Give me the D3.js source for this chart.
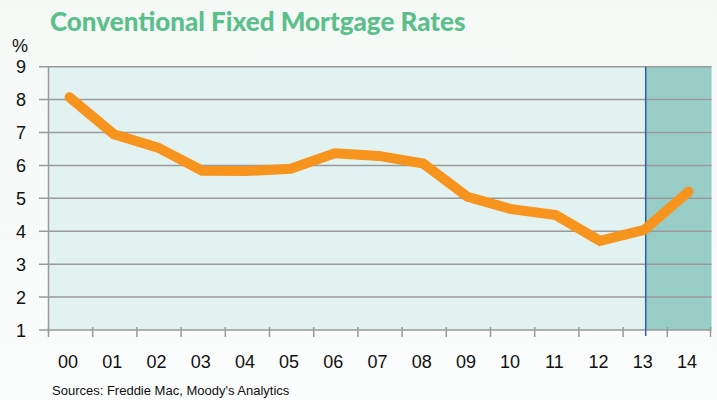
<!DOCTYPE html>
<html><head><meta charset="utf-8">
<script src="https://cdn.jsdelivr.net/npm/d3@7"></script>
<style>html,body{margin:0;padding:0;background:#f6f9f7;}</style>
</head><body>
<script>
const years = ["00","01","02","03","04","05","06","07","08","09","10","11","12","13","14"];
const rates = [8.07,6.95,6.54,5.84,5.83,5.9,6.37,6.29,6.06,5.05,4.67,4.49,3.71,4.04,5.2];
const yTicks = [1,2,3,4,5,6,7,8,9];
const forecastStart = "13";

(function(){
const W=717,H=400;
const svg=d3.select("body").append("svg").attr("width",W).attr("height",H);
const defs=svg.append("defs");
const g0=defs.append("linearGradient").attr("id","bg").attr("x1",0).attr("y1",0).attr("x2",0).attr("y2",1);
g0.append("stop").attr("offset","0%").attr("stop-color","#f5f9f6");
g0.append("stop").attr("offset","100%").attr("stop-color","#fbfcfc");
svg.append("rect").attr("width",W).attr("height",H).attr("fill","url(#bg)");

const pL=48.5,pR=711.5,pT=66.7,pB=330;
const x=d3.scaleBand().domain(years).range([pL,pR]);
const y=d3.scaleLinear().domain([1,9]).range([pB,pT]);
const cx=d=>x(d)+x.bandwidth()/2-1;

svg.append("rect").attr("x",pL).attr("y",pT).attr("width",pR-pL).attr("height",pB-pT).attr("fill","#e2f2f1");
const fx=cx(forecastStart)+1.5;
svg.append("rect").attr("x",fx).attr("y",pT).attr("width",pR-fx).attr("height",pB-pT).attr("fill","#98ccc7");

// grid
svg.append("g").selectAll("line").data(yTicks).join("line")
  .attr("x1",39).attr("x2",pR).attr("y1",d=>y(d)).attr("y2",d=>y(d))
  .attr("stroke","#9a9a9a").attr("stroke-width",1.5);
// y axis line
svg.append("line").attr("x1",pL).attr("x2",pL).attr("y1",pT).attr("y2",pB+3).attr("stroke","#9a9a9a").attr("stroke-width",1.5);
// x ticks
const tickPos=years.map(d=>x(d)).concat([pR-1]);
svg.append("g").selectAll("line").data(tickPos).join("line")
  .attr("x1",d=>d).attr("x2",d=>d).attr("y1",pB-3).attr("y2",pB+7)
  .attr("stroke","#9a9a9a").attr("stroke-width",1.5);
// forecast line
svg.append("line").attr("x1",fx).attr("x2",fx).attr("y1",pT).attr("y2",pB+6).attr("stroke","#2e5fa8").attr("stroke-width",1.5);

// y labels
svg.append("g").selectAll("text").data(yTicks).join("text")
  .attr("x",26).attr("y",d=>y(d)+6.5).attr("text-anchor","end")
  .attr("font-family","Liberation Sans, Arial, sans-serif").attr("font-size",18).attr("fill","#111")
  .text(d=>d);
svg.append("text").attr("x",12).attr("y",52).attr("font-family","Liberation Sans, Arial, sans-serif").attr("font-size",18).attr("fill","#111").text("%");
// x labels
svg.append("g").selectAll("text").data(years).join("text")
  .attr("x",d=>cx(d)-1.5).attr("y",368).attr("text-anchor","middle")
  .attr("font-family","Liberation Sans, Arial, sans-serif").attr("font-size",18).attr("fill","#111")
  .text(d=>d);

// line
const line=d3.line().x((d,i)=>cx(years[i])).y(d=>y(d));
svg.append("path").datum(rates).attr("d",line).attr("fill","none")
  .attr("stroke","#f7941d").attr("stroke-width",10).attr("stroke-linecap","round").attr("stroke-linejoin","miter");

// title
svg.append("text").attr("x",50).attr("y",31).attr("font-family","Lato, sans-serif").attr("font-weight","900")
  .attr("font-size",26).attr("fill","#5bbf8b").text("Conventional Fixed Mortgage Rates");
svg.append("text").attr("x",52).attr("y",395).attr("font-family","Liberation Sans, Arial, sans-serif")
  .attr("font-size",13).attr("fill","#111").text("Sources: Freddie Mac, Moody's Analytics");
})();
</script>
</body></html>
